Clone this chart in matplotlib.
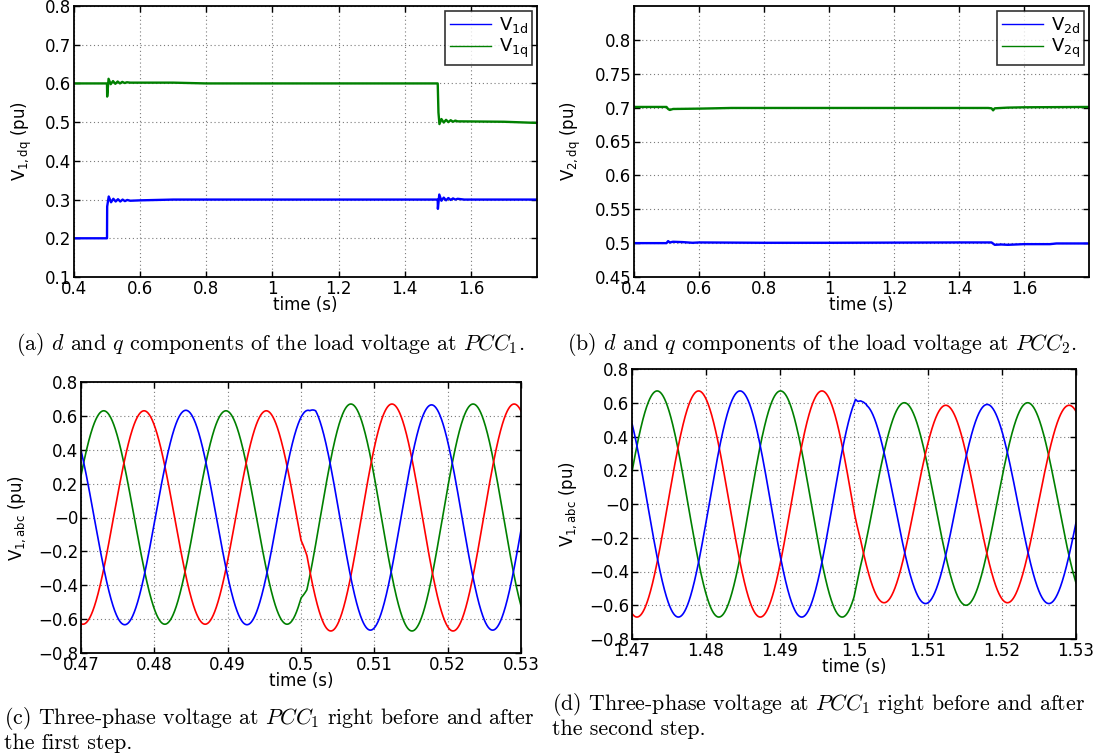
"""
PCC voltages: dq components (top) and three-phase waveforms around the
two load steps (bottom).  Values read off the reference figure.
"""

import numpy as np
import matplotlib
matplotlib.use("Agg")
import matplotlib.pyplot as plt
from matplotlib.ticker import FuncFormatter

plt.rcParams["font.family"] = ["DejaVu Sans"]
plt.rcParams["mathtext.fontset"] = "cm"

# ── (a) dq voltage at PCC1 ────────────────────────────────────────────────
V1D_T = [0.40, 0.4998, 0.5003, 0.505, 0.512, 0.519, 0.526, 0.533, 0.540,
         0.547, 0.554, 0.561, 0.57, 0.60, 0.70, 1.4998, 1.5003, 1.5045,
         1.511, 1.518, 1.525, 1.532, 1.539, 1.546, 1.553, 1.56, 1.58, 1.80]
V1D_V = [0.200, 0.200, 0.282, 0.308, 0.293, 0.302, 0.295, 0.301, 0.295,
         0.300, 0.296, 0.299, 0.297, 0.298, 0.300, 0.300, 0.276, 0.313,
         0.297, 0.305, 0.298, 0.304, 0.299, 0.303, 0.300, 0.302, 0.300, 0.300]

V1Q_T = [0.40, 0.4998, 0.5003, 0.5045, 0.511, 0.518, 0.525, 0.532, 0.539,
         0.546, 0.553, 0.56, 0.57, 0.70, 0.80, 1.4998, 1.502, 1.505,
         1.511, 1.518, 1.525, 1.532, 1.539, 1.546, 1.553, 1.56, 1.57, 1.70, 1.80]
V1Q_V = [0.600, 0.600, 0.566, 0.612, 0.598, 0.606, 0.599, 0.605, 0.600,
         0.604, 0.601, 0.603, 0.602, 0.602, 0.600, 0.600, 0.525, 0.495,
         0.508, 0.499, 0.506, 0.500, 0.505, 0.501, 0.504, 0.502, 0.502, 0.501, 0.498]

# ── (b) dq voltage at PCC2 ────────────────────────────────────────────────
V2D_T = [0.40, 0.50, 0.505, 0.51, 0.52, 0.55, 0.58, 0.60, 0.80, 1.00, 1.40,
         1.50, 1.51, 1.53, 1.55, 1.60, 1.68, 1.70, 1.80]
V2D_V = [0.500, 0.500, 0.503, 0.501, 0.502, 0.5015, 0.5005, 0.501, 0.5005,
         0.5005, 0.501, 0.501, 0.4975, 0.498, 0.4975, 0.4985, 0.4985, 0.4995, 0.4995]

V2Q_T = [0.40, 0.50, 0.505, 0.51, 0.52, 0.60, 0.70, 0.80, 1.49, 1.50, 1.505,
         1.51, 1.55, 1.60, 1.80]
V2Q_V = [0.701, 0.701, 0.698, 0.6965, 0.698, 0.6985, 0.6995, 0.6995, 0.6995,
         0.699, 0.696, 0.699, 0.700, 0.7005, 0.701]

# ── (c)/(d) three-phase voltage at PCC1, phases in order green, red, blue ─
FREQ_HZ = 60.0

C_RANGE = (0.47, 0.53)
C_SWITCH = [0.5000, 0.5000, 0.5012]        # where each phase leaves its old wave
C_AMP_BEFORE = [0.63, 0.63, 0.633]
C_AMP_AFTER = [0.67, 0.67, 0.665]
C_PEAK_BEFORE = [0.4731, 0.4786, 0.4843]   # time of one crest of each phase
C_PEAK_AFTER = [0.5068, 0.5124, 0.5178]

D_RANGE = (1.47, 1.53)
D_SWITCH = [1.5000, 1.5000, 1.5000]
D_AMP_BEFORE = [0.67, 0.67, 0.67]
D_AMP_AFTER = [0.60, 0.585, 0.59]
D_PEAK_BEFORE = [1.4734, 1.4790, 1.4846]
D_PEAK_AFTER = [1.5068, 1.5124, 1.5180]
# blue phase flattens at its crest right after the second step
D_BLUE_BUMP_T = [1.5000, 1.5002, 1.5005, 1.5009, 1.5013, 1.5017]
D_BLUE_BUMP_V = [0.594, 0.620, 0.608, 0.611, 0.603, 0.589]

CAPTIONS = [
    r"(a) $d$ and $q$ components of the load voltage at $PCC_1$.",
    r"(b) $d$ and $q$ components of the load voltage at $PCC_2$.",
    "(c) Three-phase voltage at $PCC_1$ right before and after\nthe first step.",
    "(d) Three-phase voltage at $PCC_1$ right before and after\nthe second step.",
]

BLUE, GREEN, RED = "#0000ff", "#008000", "#ff0000"
PHASE_COLORS = [GREEN, RED, BLUE]
W, H = 1095, 754
BLEND = 0.0008   # s, smoothing across the switching instant
FS = 12


def fmt(v, _pos=None):
    s = "%g" % np.round(v, 6)
    return s.replace("-", "\u2212")


def make_axes(fig, left, right, top, bottom):
    ax = fig.add_axes([left / W, 1 - bottom / H, (right - left) / W, (bottom - top) / H])
    for sp in ax.spines.values():
        sp.set_linewidth(1.3)
    ax.tick_params(direction="in", top=True, right=True, length=4, width=1,
                   labelsize=FS, pad=2)
    ax.grid(True, linestyle=(0, (1, 2.5)), color="#7a7a7a", linewidth=0.8)
    ax.xaxis.set_major_formatter(FuncFormatter(fmt))
    ax.yaxis.set_major_formatter(FuncFormatter(fmt))
    ax.set_xlabel("time (s)", fontsize=FS, labelpad=-1)
    return ax


def dq_panel(ax, td, vd, tq, vq, idx):
    ax.plot(td, vd, color=BLUE, lw=1.7, label=r"$\mathregular{V_{%sd}}$" % idx)
    ax.plot(tq, vq, color=GREEN, lw=1.7, label=r"$\mathregular{V_{%sq}}$" % idx)
    ax.set_xlim(0.4, 1.8)
    ax.set_xticks(np.round(np.arange(0.4, 1.61, 0.2), 2))
    ax.set_ylabel(r"$\mathregular{V_{%s,dq}}$ (pu)" % idx, fontsize=FS, labelpad=8)
    leg = ax.legend(loc="upper right", fontsize=13, frameon=True, fancybox=False,
                    edgecolor="black", borderpad=0.25, labelspacing=0.12,
                    handlelength=2.3, handletextpad=0.4, borderaxespad=0.25)
    leg.get_frame().set_linewidth(1.2)
    for ln in leg.get_lines():
        ln.set_linewidth(1.0)


def wave(t, amp, peak):
    return amp * np.cos(2 * np.pi * FREQ_HZ * (t - peak))


def abc_panel(ax, trange, switch, amp_b, amp_a, peak_b, peak_a, bump=None):
    t = np.linspace(trange[0], trange[1], 3000)
    for k, col in enumerate(PHASE_COLORS):
        w = np.clip((t - switch[k]) / BLEND, 0, 1)
        v = (1 - w) * wave(t, amp_b[k], peak_b[k]) + w * wave(t, amp_a[k], peak_a[k])
        tt = t
        if bump is not None and col == BLUE:
            bt, bv = bump
            keep_l = t < bt[0]
            keep_r = t > bt[-1]
            tt = np.concatenate([t[keep_l], bt, t[keep_r]])
            v = np.concatenate([v[keep_l], bv, v[keep_r]])
        ax.plot(tt, v, color=col, lw=1.2)
    ax.set_xlim(*trange)
    ax.set_xticks(np.round(np.arange(trange[0], trange[1] + 1e-9, 0.01), 3))
    ax.set_ylim(-0.8, 0.8)
    ax.set_yticks(np.round(np.arange(-0.8, 0.81, 0.2), 2))
    ax.set_ylabel(r"$\mathregular{V_{1,abc}}$ (pu)", fontsize=FS, labelpad=7)


fig = plt.figure(figsize=(W / 100, H / 100), dpi=100)

ax_a = make_axes(fig, 74, 537, 6, 277)
dq_panel(ax_a, V1D_T, V1D_V, V1Q_T, V1Q_V, "1")
ax_a.set_ylim(0.1, 0.8)
ax_a.set_yticks(np.round(np.arange(0.1, 0.81, 0.1), 2))

ax_b = make_axes(fig, 634, 1089, 6, 277)
dq_panel(ax_b, V2D_T, V2D_V, V2Q_T, V2Q_V, "2")
ax_b.set_ylim(0.45, 0.85)
ax_b.set_yticks(np.round(np.arange(0.45, 0.81, 0.05), 2))

ax_c = make_axes(fig, 81, 521, 382, 653)
abc_panel(ax_c, C_RANGE, C_SWITCH, C_AMP_BEFORE, C_AMP_AFTER, C_PEAK_BEFORE, C_PEAK_AFTER)

ax_d = make_axes(fig, 632, 1076, 369, 639)
abc_panel(ax_d, D_RANGE, D_SWITCH, D_AMP_BEFORE, D_AMP_AFTER, D_PEAK_BEFORE, D_PEAK_AFTER,
          bump=(D_BLUE_BUMP_T, D_BLUE_BUMP_V))

# captions in a Computer Modern look
cap = dict(family="cmr10", fontsize=15.8, va="center")
fig.text(270 / W, 1 - 345 / H, CAPTIONS[0], ha="center", **cap)
fig.text(822 / W, 1 - 345 / H, CAPTIONS[1], ha="center", **cap)
fig.text(4 / W, 1 - 729 / H, CAPTIONS[2], ha="left", linespacing=1.05, **cap)
fig.text(552 / W, 1 - 715 / H, CAPTIONS[3], ha="left", linespacing=1.05, **cap)

fig.savefig("out.png", dpi=100)
